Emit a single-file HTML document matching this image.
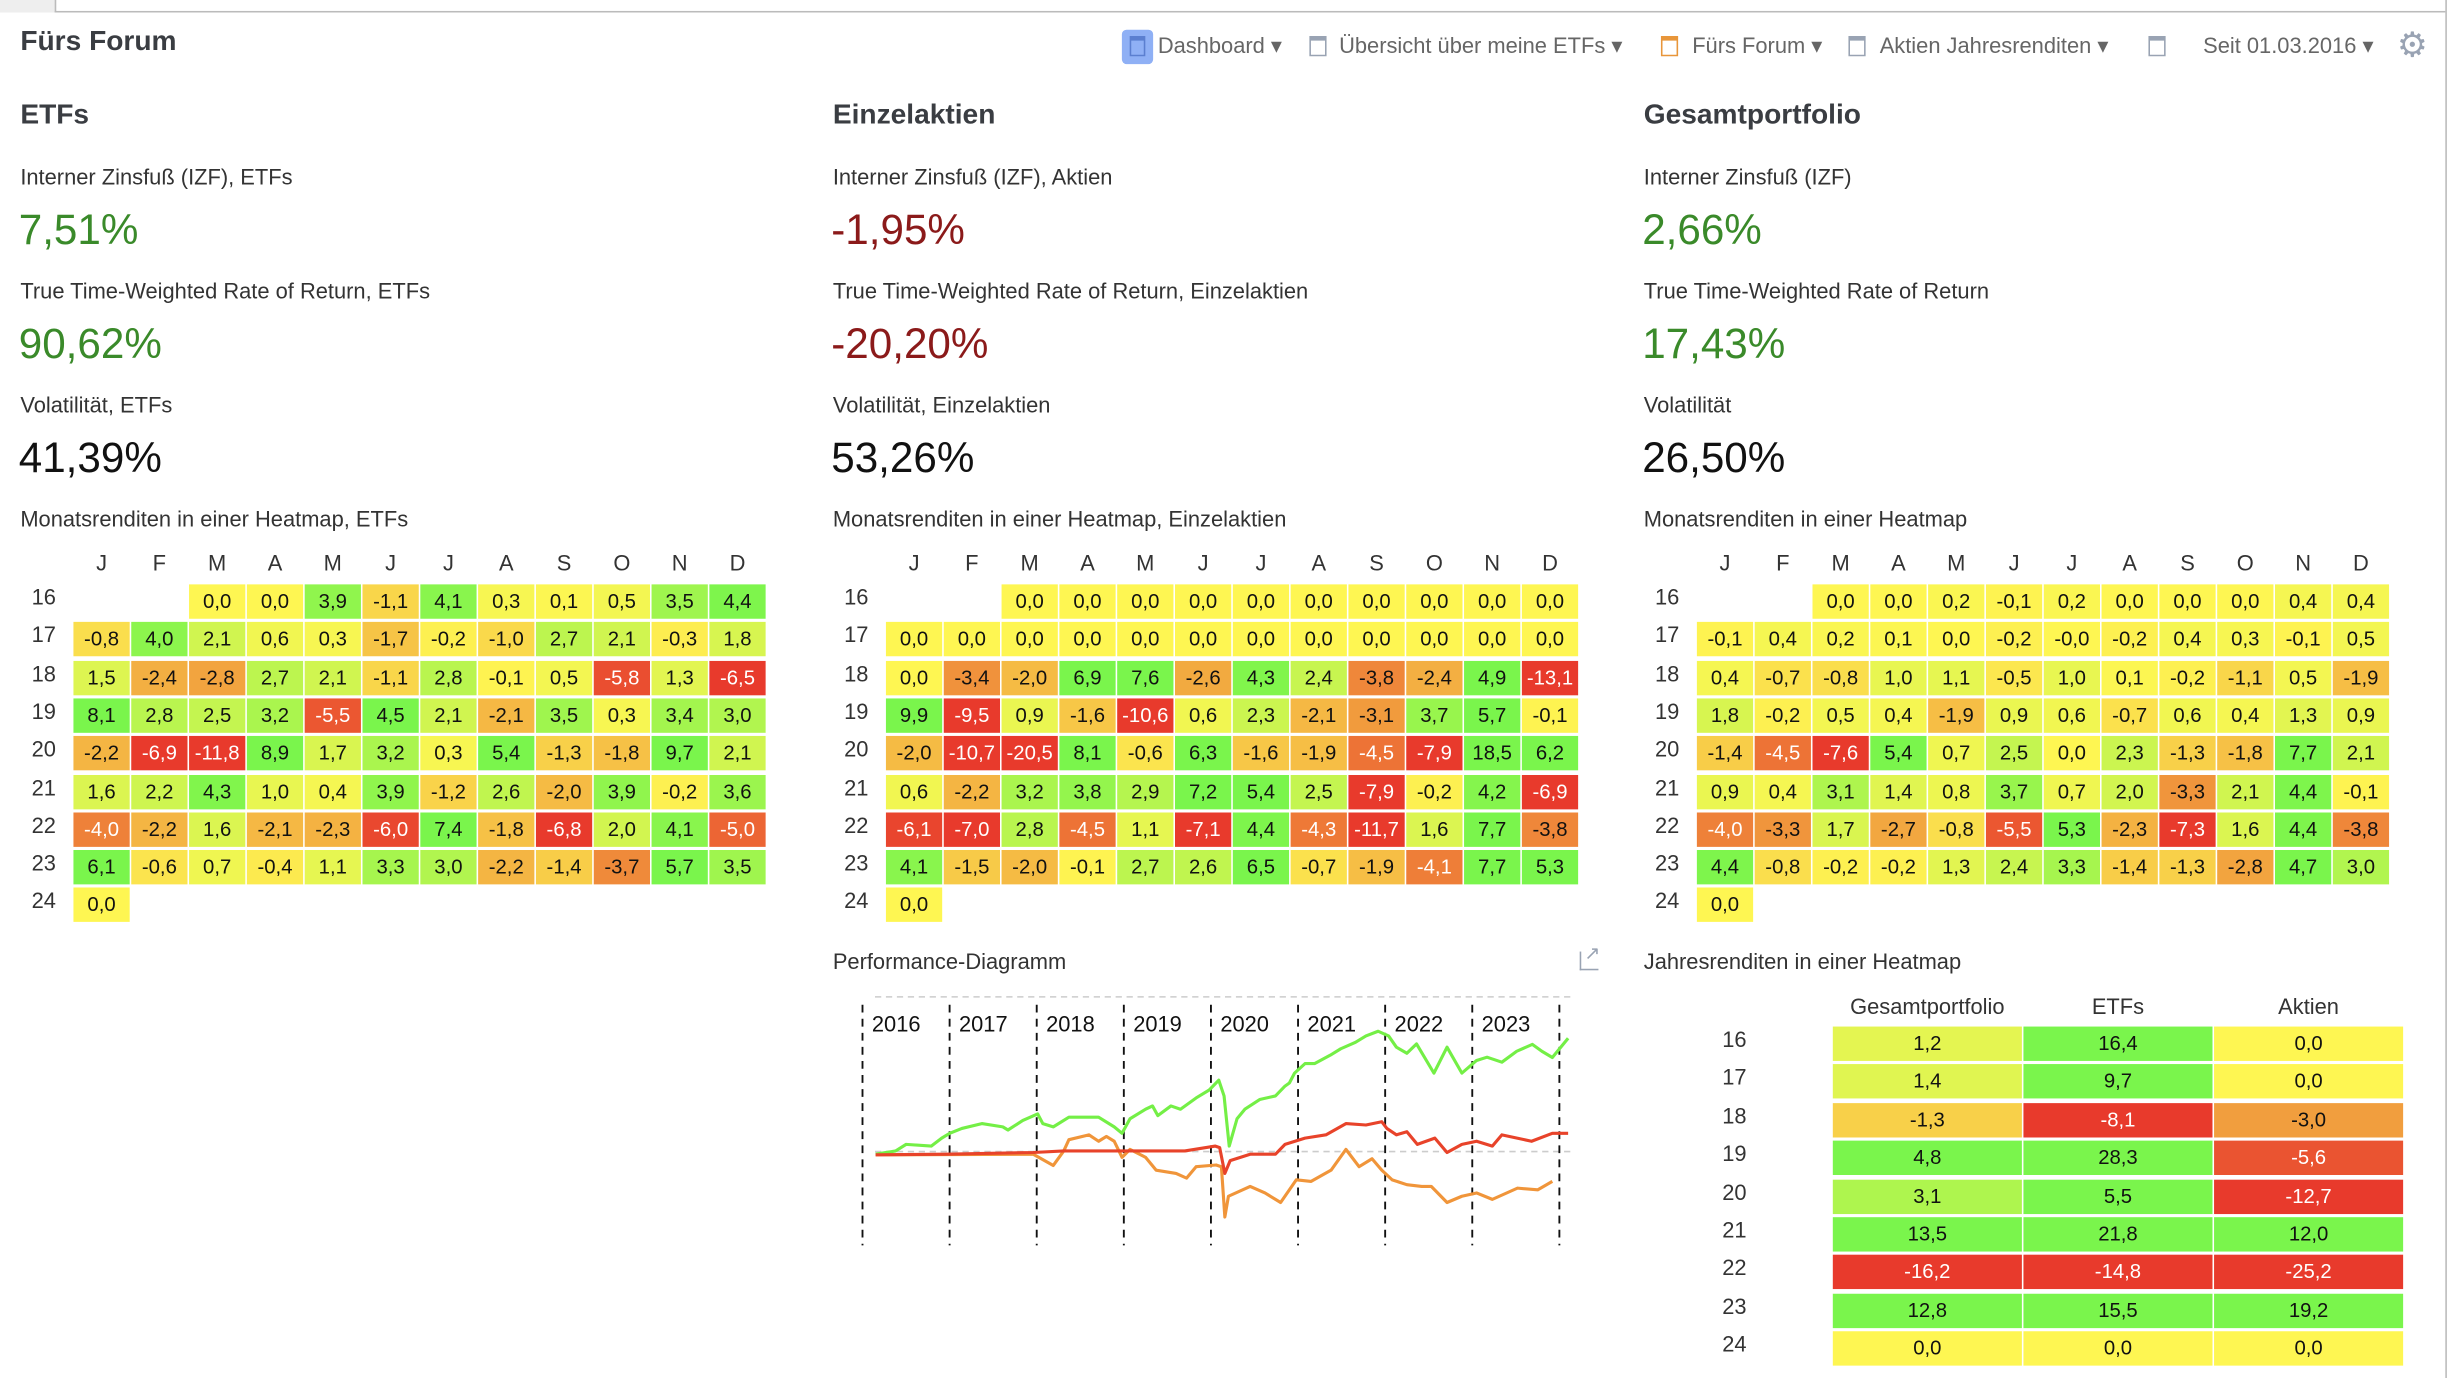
<!DOCTYPE html>
<html><head><meta charset="utf-8">
<style>
html,body{margin:0;padding:0;background:#fff;overflow:hidden;}
#root{position:absolute;left:0;top:0;width:1568px;height:882px;transform:scale(1.5625);transform-origin:0 0;font-family:"Liberation Sans",sans-serif;color:#333;}
.a{position:absolute;white-space:nowrap;}
.h1{font-size:18px;font-weight:bold;color:#3a3d42;}
.lbl{font-size:14px;color:#333;}
.big{font-size:27px;}
.g{color:#3a8a2a}.r{color:#8b1a1a}.k{color:#111}
.menu{font-size:14px;color:#666;top:21px;}
.ic{position:absolute;width:11px;height:13px;border:1.5px solid #99a3b3;box-sizing:border-box;border-top-width:3px;}
.cell{position:absolute;font-size:13px;text-align:center;line-height:22px;height:22px;}
.hd{position:absolute;font-size:14px;text-align:center;width:36px;}
.rl{position:absolute;font-size:14px;width:30px;text-align:center;}
</style></head><body>
<div id="root">
<div class="a" style="left:0;top:0;width:35px;height:8px;background:#eee;border-right:1px solid #bbb"></div>
<div class="a" style="left:35px;top:7px;width:1530px;height:1px;background:#bbb"></div>
<div class="a" style="left:1565px;top:0;width:1px;height:882px;background:#bbb"></div>
<div class="a h1" style="left:13px;top:16px">Fürs Forum</div>

<div class="a" style="left:718px;top:19px;width:20px;height:22px;background:#8fb0f5;border-radius:3px"><div style="position:absolute;left:5px;top:4px;width:10px;height:13px;border:1.5px solid #5b7fd0;box-sizing:border-box;border-top-width:3px"></div></div>
<div class="a menu" style="left:741px">Dashboard ▾</div>
<div class="ic" style="left:838px;top:23px"></div>
<div class="a menu" style="left:857px">Übersicht über meine ETFs ▾</div>
<div class="ic" style="left:1063px;top:23px;border-color:#e8963a"></div>
<div class="a menu" style="left:1083px">Fürs Forum ▾</div>
<div class="ic" style="left:1183px;top:23px"></div>
<div class="a menu" style="left:1203px">Aktien Jahresrenditen ▾</div>
<div class="ic" style="left:1375px;top:23px"></div>
<div class="a menu" style="left:1410px">Seit 01.03.2016 ▾</div>
<div class="a" style="left:1534px;top:16px;font-size:22px;color:#99a3b3">⚙</div>

<div class="a h1" style="left:13px;top:63px">ETFs</div>
<div class="a lbl" style="left:13px;top:105px">Interner Zinsfuß (IZF), ETFs</div>
<div class="a big g" style="left:12px;top:132px">7,51%</div>
<div class="a lbl" style="left:13px;top:178px">True Time-Weighted Rate of Return, ETFs</div>
<div class="a big g" style="left:12px;top:205px">90,62%</div>
<div class="a lbl" style="left:13px;top:251px">Volatilität, ETFs</div>
<div class="a big k" style="left:12px;top:278px">41,39%</div>
<div class="a lbl" style="left:13px;top:324px">Monatsrenditen in einer Heatmap, ETFs</div>

<div class="a h1" style="left:533px;top:63px">Einzelaktien</div>
<div class="a lbl" style="left:533px;top:105px">Interner Zinsfuß (IZF), Aktien</div>
<div class="a big r" style="left:532px;top:132px">-1,95%</div>
<div class="a lbl" style="left:533px;top:178px">True Time-Weighted Rate of Return, Einzelaktien</div>
<div class="a big r" style="left:532px;top:205px">-20,20%</div>
<div class="a lbl" style="left:533px;top:251px">Volatilität, Einzelaktien</div>
<div class="a big k" style="left:532px;top:278px">53,26%</div>
<div class="a lbl" style="left:533px;top:324px">Monatsrenditen in einer Heatmap, Einzelaktien</div>

<div class="a h1" style="left:1052px;top:63px">Gesamtportfolio</div>
<div class="a lbl" style="left:1052px;top:105px">Interner Zinsfuß (IZF)</div>
<div class="a big g" style="left:1051px;top:132px">2,66%</div>
<div class="a lbl" style="left:1052px;top:178px">True Time-Weighted Rate of Return</div>
<div class="a big g" style="left:1051px;top:205px">17,43%</div>
<div class="a lbl" style="left:1052px;top:251px">Volatilität</div>
<div class="a big k" style="left:1051px;top:278px">26,50%</div>
<div class="a lbl" style="left:1052px;top:324px">Monatsrenditen in einer Heatmap</div>

<div class="a lbl" style="left:533px;top:607px">Performance-Diagramm</div>
<div class="a" style="left:1011px;top:609px;width:11px;height:11px;border:1.5px solid #99a3b3;border-top:none;border-right:none;"><span style="position:absolute;left:2px;top:-6px;font-size:12px;color:#99a3b3">↗</span></div>
<div class="a lbl" style="left:1052px;top:607px">Jahresrenditen in einer Heatmap</div>

<svg id="perf" class="a" style="left:0;top:0" width="1568" height="882"></svg>
<div id="hm"></div>
</div>
<script>
// ---------- heatmap data ----------
const months = ["J","F","M","A","M","J","J","A","S","O","N","D"];
const years = ["16","17","18","19","20","21","22","23","24"];
const etfMonthly = [
[null,null,0.0,0.0,3.9,-1.1,4.1,0.3,0.1,0.5,3.5,4.4],
[-0.8,4.0,2.1,0.6,0.3,-1.7,-0.2,-1.0,2.7,2.1,-0.3,1.8],
[1.5,-2.4,-2.8,2.7,2.1,-1.1,2.8,-0.1,0.5,-5.8,1.3,-6.5],
[8.1,2.8,2.5,3.2,-5.5,4.5,2.1,-2.1,3.5,0.3,3.4,3.0],
[-2.2,-6.9,-11.8,8.9,1.7,3.2,0.3,5.4,-1.3,-1.8,9.7,2.1],
[1.6,2.2,4.3,1.0,0.4,3.9,-1.2,2.6,-2.0,3.9,-0.2,3.6],
[-4.0,-2.2,1.6,-2.1,-2.3,-6.0,7.4,-1.8,-6.8,2.0,4.1,-5.0],
[6.1,-0.6,0.7,-0.4,1.1,3.3,3.0,-2.2,-1.4,-3.7,5.7,3.5],
[0.0]];
const stockMonthly = [
[null,null,0,0,0,0,0,0,0,0,0,0],
[0,0,0,0,0,0,0,0,0,0,0,0],
[0.0,-3.4,-2.0,6.9,7.6,-2.6,4.3,2.4,-3.8,-2.4,4.9,-13.1],
[9.9,-9.5,0.9,-1.6,-10.6,0.6,2.3,-2.1,-3.1,3.7,5.7,-0.1],
[-2.0,-10.7,-20.5,8.1,-0.6,6.3,-1.6,-1.9,-4.5,-7.9,18.5,6.2],
[0.6,-2.2,3.2,3.8,2.9,7.2,5.4,2.5,-7.9,-0.2,4.2,-6.9],
[-6.1,-7.0,2.8,-4.5,1.1,-7.1,4.4,-4.3,-11.7,1.6,7.7,-3.8],
[4.1,-1.5,-2.0,-0.1,2.7,2.6,6.5,-0.7,-1.9,-4.1,7.7,5.3],
[0.0]];
const totalMonthly = [
[null,null,0.0,0.0,0.2,-0.1,0.2,0.0,0.0,0.0,0.4,0.4],
[-0.1,0.4,0.2,0.1,0.0,-0.2,-0,-0.2,0.4,0.3,-0.1,0.5],
[0.4,-0.7,-0.8,1.0,1.1,-0.5,1.0,0.1,-0.2,-1.1,0.5,-1.9],
[1.8,-0.2,0.5,0.4,-1.9,0.9,0.6,-0.7,0.6,0.4,1.3,0.9],
[-1.4,-4.5,-7.6,5.4,0.7,2.5,0.0,2.3,-1.3,-1.8,7.7,2.1],
[0.9,0.4,3.1,1.4,0.8,3.7,0.7,2.0,-3.3,2.1,4.4,-0.1],
[-4.0,-3.3,1.7,-2.7,-0.8,-5.5,5.3,-2.3,-7.3,1.6,4.4,-3.8],
[4.4,-0.8,-0.2,-0.2,1.3,2.4,3.3,-1.4,-1.3,-2.8,4.7,3.0],
[0.0]];
const annualHeaders = ["Gesamtportfolio","ETFs","Aktien"];
const annualTotal = [1.2,1.4,-1.3,4.8,3.1,13.5,-16.2,12.8,0.0];
const annualEtf = [16.4,9.7,-8.1,28.3,5.5,21.8,-14.8,15.5,0.0];
const annualStock = [0.0,0.0,-3.0,-5.6,-12.7,12.0,-25.2,19.2,0.0];

// ---------- performance data (decimal year, % return) ----------
const etfDates = [2016.15,2016.38,2016.5,2016.79,2016.91,2017.0,2017.14,2017.37,2017.61,2017.67,2017.84,2018.01,2018.07,2018.19,2018.37,2018.54,2018.71,2018.89,2018.98,2019.07,2019.25,2019.33,2019.39,2019.54,2019.65,2019.83,2019.98,2020.09,2020.15,2020.21,2020.3,2020.39,2020.56,2020.74,2020.85,2020.9,2020.96,2021.08,2021.19,2021.37,2021.49,2021.66,2021.78,2021.92,2022.04,2022.13,2022.25,2022.36,2022.56,2022.71,2022.88,2023.05,2023.17,2023.34,2023.51,2023.69,2023.8,2023.92,2024.1];
const etfValues = [-2.1,0.5,5.7,4.4,10.8,14.6,18.5,22.4,19.8,17.2,24.9,30.1,22.4,19.8,27.5,27.5,27.5,19.8,14.6,26.2,33.9,36.5,28.8,36.5,33.9,42.9,49.3,57.1,44.5,4.4,26.2,33.9,41.6,44.5,52.4,54.9,62.7,70.4,70.4,77.1,82.2,87.4,92.5,96.2,92.5,83.5,78.6,86.1,62.7,83.5,62.7,72.9,75.5,71.5,80.2,85.8,80.2,75.3,90.6];
const totalDates = [2016.15,2016.96,2017.96,2018.31,2018.89,2019.12,2019.7,2020.05,2020.1,2020.16,2020.22,2020.45,2020.74,2020.85,2021.08,2021.32,2021.55,2021.78,2021.96,2022.02,2022.13,2022.25,2022.37,2022.57,2022.71,2022.88,2023.05,2023.23,2023.34,2023.68,2023.92,2024.1];
const totalValues = [-2.6,-2.1,-0.8,0.5,0.5,0.5,0.5,4.4,3.1,-17.5,-7.2,-2.1,-2.1,5.7,10.8,13.4,22.4,21.3,23.9,18.5,13.4,15.9,5.7,10.8,-0.8,5.7,8.2,4.4,13.4,8.2,14.6,14.6];
const stockDates = [2016.15,2017.96,2018.19,2018.31,2018.37,2018.6,2018.71,2018.8,2018.89,2018.98,2019.07,2019.25,2019.37,2019.6,2019.72,2019.83,2020.06,2020.12,2020.16,2020.2,2020.45,2020.62,2020.8,2020.98,2021.15,2021.38,2021.55,2021.7,2021.85,2021.96,2022.08,2022.25,2022.42,2022.53,2022.71,2022.88,2023.05,2023.23,2023.52,2023.75,2023.92];
const stockValues = [-2.6,-2.1,-11.1,0.5,9.5,13.4,8.2,12.1,8.2,-4.6,1.8,-4.6,-14.9,-17.5,-21.3,-12.1,-10.8,-12.1,-52.4,-35.7,-27.9,-33.1,-40.8,-22.6,-23.9,-14.9,1.8,-12.1,-5.7,-14.9,-22.6,-26.5,-27.9,-27.9,-40.8,-35.7,-33.1,-38.3,-29.3,-30.6,-23.9];
const yearTicks = ["2016","2017","2018","2019","2020","2021","2022","2023"];

// ---------- colour scale ----------
function lerp(a,b,t){return [0,1,2].map(i=>Math.round(a[i]+(b[i]-a[i])*t));}
function heat(v){
  const Y=[254,246,82],LG=[205,245,80],G=[122,245,76],O=[241,160,62],R=[232,58,44];
  let c;
  if(v>=0){const t=Math.min(v/4.5,1);c=t<0.5?lerp(Y,LG,t/0.5):lerp(LG,G,(t-0.5)/0.5);}
  else{const t=Math.min(-v/6.5,1);c=t<0.45?lerp(Y,O,t/0.45):lerp(O,R,(t-0.45)/0.55);}
  return "rgb("+c.join(",")+")";
}
function fmt(v){let s=Math.abs(v).toFixed(1).replace(".",",");return (v<0||Object.is(v,-0))?"-"+s:s;}

const hm=document.getElementById("hm");
function heatmap(data,x0,name){
  months.forEach((m,c)=>{
    const d=document.createElement("div");d.className="hd";
    d.style.left=(x0+c*37)+"px";d.style.top="352px";d.textContent=m;
    
    
    hm.appendChild(d);
  });
  years.forEach((y,r)=>{
    const l=document.createElement("div");l.className="rl";
    l.style.left=(x0-34)+"px";l.style.top=(374+r*24.3)+"px";l.textContent=y;
    
    
    hm.appendChild(l);
    data[r].forEach((v,c)=>{
      if(v===null)return;
      const e=document.createElement("div");e.className="cell";
      e.style.left=(x0+c*37)+"px";e.style.top=(374+r*24.3)+"px";e.style.width="36px";
      e.style.background=heat(v);e.style.color=v<=-4?"#fff":"#111";
      e.textContent=fmt(v);
      
      
      hm.appendChild(e);
    });
  });
}
heatmap(etfMonthly,47,"etf-heatmap");
heatmap(stockMonthly,567,"stocks-heatmap");
heatmap(totalMonthly,1086,"portfolio-heatmap");

const cols=[annualTotal,annualEtf,annualStock];
annualHeaders.forEach((h,c)=>{
  const d=document.createElement("div");d.className="a lbl";
  d.style.left=(1173+c*122)+"px";d.style.width="121px";d.style.textAlign="center";d.style.top="636px";
  d.textContent=h;
  
  
  hm.appendChild(d);
});
years.forEach((y,r)=>{
  const l=document.createElement("div");l.className="rl";
  l.style.left="1095px";l.style.top=(657+r*24.4)+"px";l.textContent=y;
  
  
  hm.appendChild(l);
  cols.forEach((arr,c)=>{
    const v=arr[r];
    const e=document.createElement("div");e.className="cell";
    e.style.left=(1173+c*122)+"px";e.style.top=(657+r*24.4)+"px";e.style.width="121px";
    e.style.background=heat(v);e.style.color=v<=-4?"#fff":"#111";
    e.textContent=fmt(v);
    
    
    hm.appendChild(e);
  });
});

// ---------- performance chart ----------
const svg=document.getElementById("perf");
const NS="http://www.w3.org/2000/svg";
const X0=552,X1=998,T0=2016,T1=2024,Y0=737,PX=0.8;
function xs(t){return X0+(t-T0)/(T1-T0)*(X1-X0);}
function ys(v){return Y0-v*PX;}
function mk(tag,attrs){const e=document.createElementNS(NS,tag);for(const k in attrs)e.setAttribute(k,attrs[k]);svg.appendChild(e);return e;}
let ln=mk("line",{x1:560,x2:1008,y1:638,y2:638,stroke:"#ccc","stroke-dasharray":"4,3"});


ln=mk("line",{x1:560,x2:1008,y1:ys(0),y2:ys(0),stroke:"#ccc","stroke-dasharray":"4,3"});


for(let i=0;i<=yearTicks.length;i++){
  const x=xs(T0+i);
  const v=mk("line",{x1:x,x2:x,y1:643,y2:797,stroke:"#111","stroke-dasharray":"5,4","stroke-width":1.2});
  
  
  if(i<yearTicks.length){
    const t=mk("text",{x:x+6,y:660,"font-size":14,fill:"#111","font-family":"Liberation Sans, sans-serif"});
    t.textContent=yearTicks[i];
    
    
  }
}
function series(d,v,color,name){
  const p=d.map((t,i)=>xs(t).toFixed(1)+","+ys(v[i]).toFixed(1)).join(" ");
  const e=mk("polyline",{points:p,fill:"none",stroke:color,"stroke-width":2,"stroke-linejoin":"round"});
  
  
}
series(stockDates,stockValues,"#f0953a","stocks-line");
series(etfDates,etfValues,"#74ef46","etf-line");
series(totalDates,totalValues,"#e8432a","portfolio-line");
</script>
</body></html>
